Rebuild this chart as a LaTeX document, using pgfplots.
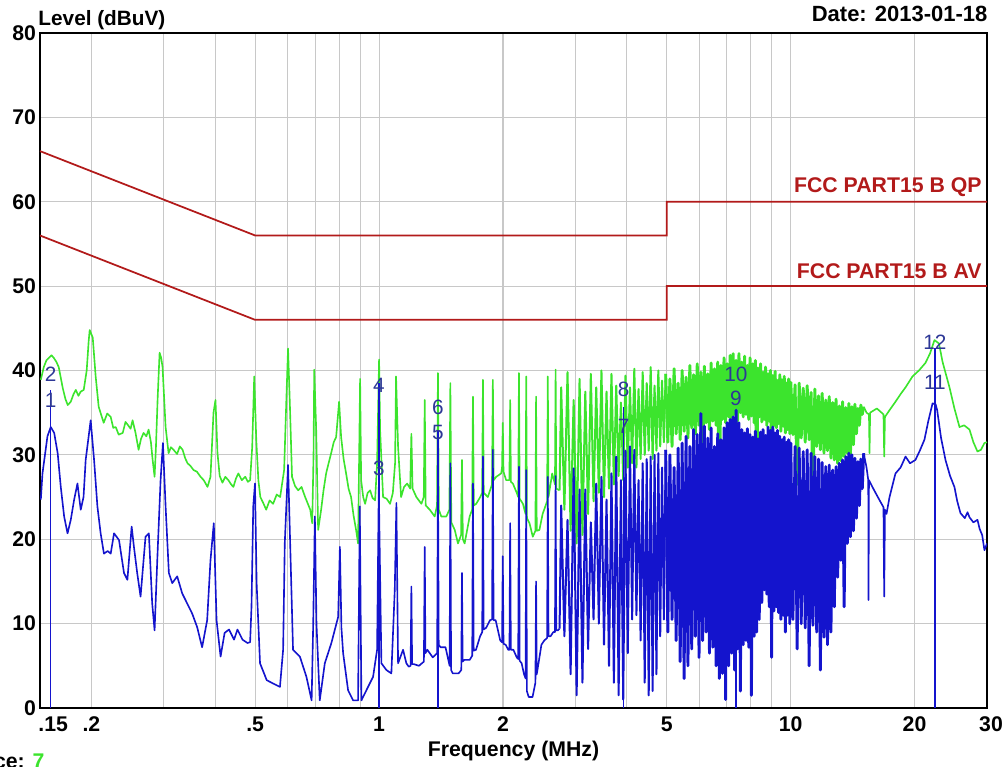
\documentclass[border=0pt]{standalone}
\usepackage{fontspec}
\setmainfont{Liberation Sans}
\usepackage{pgfplots}
\pgfplotsset{compat=1.18}

\definecolor{qpgreen}{RGB}{60,228,45}
\definecolor{avblue}{RGB}{20,20,205}
\definecolor{limred}{RGB}{178,26,26}
\definecolor{mkblue}{RGB}{45,55,150}
\definecolor{gridgray}{RGB}{200,200,200}

\newcommand{\bigb}{\fontsize{8.5}{10}\selectfont\bfseries}
\newcommand{\mk}{\fontsize{8.3}{10}\selectfont}

\tikzset{
  trace/.style={line width=0.65pt, line join=round},
  dense/.style={line width=0.8pt, line join=round},
  denser/.style={line width=1.15pt, line join=round},
  mline/.style={avblue, line width=0.6pt},
  mlbl/.style={font=\mk, text=mkblue, inner sep=0pt},
  lim/.style={limred, line width=0.7pt},
}

\begin{document}
\begin{tikzpicture}
\begin{axis}[
  scale only axis, width=378.8pt, height=270pt,
  xmode=log, xmin=0.15, xmax=30, ymin=0, ymax=80,
  xtick={0.2,0.5,1,2,5,10,20}, xticklabels={.2,.5,1,2,5,10,20},
  minor xtick={0.3,0.4,0.6,0.7,0.8,0.9,3,4,6,7,8,9},
  ytick={0,10,20,30,40,50,60,70,80}, yticklabels={0,10,20,30,40,50,60,70,80},
  grid=both,
  major grid style={draw=gridgray, line width=0.45pt},
  minor grid style={draw=gridgray, line width=0.45pt},
  major tick length=0pt, minor tick length=0pt,
  axis line style={line width=0.9pt},
  tick label style={font=\bigb, inner sep=0pt},
  xticklabel style={anchor=north, yshift=-3.2pt},
  yticklabel style={anchor=east, xshift=-1.4pt},
]

% limit lines
\addplot[lim] coordinates {(0.15,66) (0.5,56) (5,56) (5,60) (30,60)};
\addplot[lim] coordinates {(0.15,56) (0.5,46) (5,46) (5,50) (30,50)};

% peak trace (green), 0.15 - 2.75 MHz
\addplot[trace, qpgreen] coordinates {
(0.1507,38.9) (0.1532,40.4) (0.1555,41.2) (0.1576,41.5) (0.1600,41.8) (0.1620,41.5) (0.1645,41.0) (0.1666,40.4)
(0.1704,37.9) (0.1730,36.6) (0.1752,35.9) (0.1782,36.3) (0.1810,37.2) (0.1833,37.7) (0.1860,37.0) (0.1884,37.5)
(0.1916,37.7) (0.1948,40.0) (0.1970,43.5) (0.1981,44.8) (0.2015,43.9) (0.2048,39.3) (0.2083,35.7) (0.2142,33.8)
(0.2185,34.9) (0.2228,34.5) (0.2260,33.2) (0.2291,33.3) (0.2330,32.4) (0.2383,32.6) (0.2420,33.9) (0.2448,33.6)
(0.2490,33.1) (0.2518,34.1) (0.2560,32.6) (0.2604,30.6) (0.2640,31.9) (0.2678,32.6) (0.2720,32.2) (0.2754,33.0)
(0.2790,31.5) (0.2817,29.4) (0.2848,27.4) (0.2870,31.0) (0.2896,36.5) (0.2929,42.1) (0.2955,41.5) (0.2978,40.4)
(0.3029,33.3) (0.3080,30.2) (0.3120,30.9) (0.3167,30.6) (0.3230,30.1) (0.3280,31.0) (0.3331,30.6) (0.3380,29.6)
(0.3425,29.0) (0.3480,28.7) (0.3542,28.2) (0.3610,28.0) (0.3683,27.4) (0.3750,27.0) (0.3830,26.2) (0.3894,27.4)
(0.3930,31.5) (0.3960,35.0) (0.4004,36.5) (0.4049,30.2) (0.4100,27.5) (0.4163,26.7) (0.4230,27.4) (0.4304,27.0)
(0.4370,26.5) (0.4426,26.2) (0.4490,27.2) (0.4550,27.8) (0.4640,27.0) (0.4731,27.4) (0.4800,26.8)
(0.486,27.0) (0.4917,30.9) (0.4973,39.3) (0.503,31.8) (0.5090,27.0) (0.5146,25.0) (0.5230,24.3) (0.5317,23.5)
(0.5420,24.6) (0.5527,24.2) (0.5640,25.3) (0.5749,25.0) (0.5879,28.2) (0.5945,35.7) (0.6009,42.6) (0.6077,35.3)
(0.6144,27.4) (0.6250,26.3) (0.6360,25.8) (0.6480,26.2) (0.6612,25.0) (0.6804,23.5) (0.6880,21.9) (0.6930,30.0)
(0.6957,40.1) (0.7034,33.0) (0.7112,21.1) (0.7232,23.5) (0.7330,25.8) (0.7436,27.8) (0.7540,29.0) (0.7649,30.2)
(0.7760,31.5) (0.7865,32.1) (0.7997,36.3) (0.8087,32.1) (0.8200,29.5) (0.8315,27.8) (0.8430,26.0) (0.8550,25.0)
(0.8670,22.8) (0.8793,21.1) (0.8891,19.5) (0.8993,39.0) (0.9044,27.0) (0.9150,25.0) (0.9248,24.2) (0.9380,25.5)
(0.9510,25.8) (0.9640,24.9) (0.9779,24.6) (0.9889,29.0) (1.0,41.3) (1.0056,33.0) (1.0226,25.0) (1.0430,24.8)
(1.0634,24.2) (1.0800,25.5) (1.0935,29.0) (1.0996,39.3) (1.112,31.0) (1.131,25.0)
(1.150,26.2) (1.170,26.6) (1.19,26.0) (1.198,32.5) (1.206,26.0) (1.232,25.0) (1.267,24.2) (1.284,25.0)
(1.291,36.5) (1.298,24.0) (1.328,23.5) (1.365,22.7) (1.383,24.0) (1.39,39.7) (1.397,23.5) (1.416,22.7)
(1.457,22.7) (1.482,23.5) (1.49,38.5) (1.498,22.0) (1.527,21.1) (1.555,19.5) (1.582,20.5) (1.59,29.4)
(1.598,20.0) (1.614,19.5) (1.66,22.7) (1.683,23.5) (1.691,36.9) (1.699,24.0) (1.722,24.2) (1.761,25.0)
(1.78,25.5) (1.788,38.9) (1.796,25.5) (1.838,25.0) (1.881,26.5) (1.89,38.9) (1.899,27.0) (1.926,27.4)
(1.980,27.8) (1.99,28.5) (1.998,33.8) (2.006,28.0) (2.036,27.0) (2.073,27.0) (2.082,36.5) (2.091,26.8)
(2.114,26.6) (2.16,25.5) (2.178,25.0) (2.187,39.7) (2.196,24.8) (2.236,24.2) (2.269,23.0) (2.278,39.3)
(2.287,22.5) (2.320,21.9) (2.363,20.3) (2.398,21.0) (2.407,36.9) (2.416,21.0) (2.452,21.1) (2.497,23.0)
(2.56,24.5) (2.57,39.3) (2.58,25.0) (2.634,27.8) (2.675,26.5) (2.685,40.1) (2.695,26.0) (2.745,25.8)
};
% green, 2.75 - 5 MHz
\addplot[dense, qpgreen] coordinates {
(2.745,25.8)
(2.77,38.0) (2.82,23.5) (2.87,39.8) (2.92,21.0) (2.97,36.5) (3.02,19.5) (3.07,39.0) (3.12,20.5)
(3.17,37.5) (3.22,23.0) (3.27,39.6) (3.32,24.5) (3.37,38.0) (3.42,25.5) (3.47,40.0)
(3.52,25.0) (3.57,37.5) (3.62,26.0) (3.67,39.6) (3.72,26.5) (3.77,38.2) (3.82,27.5) (3.87,36.2)
(3.92,27.0) (3.97,39.4) (4.02,28.5) (4.07,38.0) (4.12,29.0) (4.17,40.2) (4.22,28.5) (4.27,37.8)
(4.32,29.5) (4.37,39.8) (4.42,30.0) (4.47,38.5) (4.52,30.5) (4.57,40.4) (4.62,29.5) (4.67,38.2)
(4.72,30.5) (4.77,40.0) (4.82,31.0) (4.87,38.8) (4.92,31.5) (4.97,39.6)
};
% green, 5 - 15 MHz
\addplot[denser, qpgreen] coordinates {
(4.97,39.6)
(5.03,31.5) (5.09,39.0) (5.15,31.0) (5.21,40.2) (5.27,32.5) (5.33,38.5) (5.39,31.8) (5.45,40.0)
(5.51,32.8) (5.57,39.2) (5.63,32.0) (5.69,40.6) (5.75,33.2) (5.81,39.5) (5.87,32.5) (5.93,40.8)
(5.99,33.5) (6.05,39.8) (6.11,26.0) (6.17,40.5) (6.23,33.8) (6.29,39.6) (6.35,33.0) (6.41,40.9)
(6.47,34.0) (6.53,40.2) (6.59,33.5) (6.65,41.0) (6.71,22.0) (6.77,40.6) (6.83,34.2) (6.89,41.5)
(6.95,33.8) (7.01,40.8) (7.07,34.5) (7.13,41.8) (7.19,23.5) (7.25,42.0) (7.31,34.8) (7.37,41.2)
(7.43,34.0) (7.49,42.0) (7.55,35.0) (7.61,41.0) (7.67,34.5) (7.73,41.7) (7.79,34.8) (7.85,40.6)
(7.91,34.2) (7.97,41.5) (8.03,34.6) (8.09,40.8) (8.15,33.8) (8.21,41.2) (8.27,22.8) (8.33,40.3)
(8.39,34.5) (8.45,40.8) (8.51,33.9) (8.57,39.8) (8.63,34.2) (8.69,40.4) (8.75,33.5) (8.81,39.6)
(8.87,34.0) (8.93,40.0) (8.99,26.0) (9.05,39.4) (9.11,33.5) (9.17,39.9) (9.23,33.2) (9.29,38.8)
(9.35,33.7) (9.41,39.5) (9.47,32.8) (9.53,38.9) (9.59,33.4) (9.65,39.3) (9.71,32.6) (9.77,38.5)
(9.83,33.0) (9.89,39.0) (9.95,32.5)
(10.01,38.6) (10.13,32.4) (10.25,38.3) (10.37,26.5) (10.49,38.5) (10.61,32.0) (10.73,37.9) (10.85,31.5)
(10.97,38.2) (11.09,31.8) (11.21,37.4) (11.33,25.5) (11.45,37.8) (11.57,31.0) (11.69,37.0) (11.81,30.6)
(11.93,37.3) (12.05,30.2) (12.17,36.5) (12.29,30.5) (12.41,36.9) (12.53,29.6) (12.65,36.2) (12.77,29.4)
(12.89,36.6) (13.01,29.0) (13.13,35.8) (13.25,29.3) (13.37,36.3) (13.49,29.8) (13.61,35.6) (13.73,30.2)
(13.85,36.1) (13.97,30.0) (14.09,35.7) (14.21,31.2) (14.33,36.0) (14.45,32.5) (14.57,35.5) (14.69,33.5)
(14.81,35.9) (14.93,34.8) (15.05,35.7)
};
% green, 15 - 30 MHz
\addplot[trace, qpgreen] coordinates {
(15.05,35.7) (15.29,35.0) (15.50,34.8) (15.55,30.2) (15.60,35.0) (16.2,35.5) (16.81,34.8) (16.88,29.8)
(16.95,34.5) (17.39,35.3) (17.98,36.3) (18.5,37.2) (19.02,38.0) (19.78,39.3) (20.5,40.0) (21.26,40.9)
(21.8,42.0) (22.36,43.6) (22.93,43.2) (23.4,41.0) (24.32,38.0) (25.0,35.5) (25.72,33.3) (26.4,33.5)
(27.2,33.0) (27.8,31.5) (28.44,30.4) (29.0,30.6) (29.57,31.4) (30,31.5)
};

% average trace (blue), 0.15 - 2.75 MHz
\addplot[trace, avblue] coordinates {
(0.1507,24.7) (0.1521,27.8) (0.1564,32.2) (0.1593,33.3) (0.1624,32.6) (0.1656,30.2) (0.1685,26.2) (0.1717,22.7)
(0.1750,20.7) (0.1782,22.3) (0.1816,24.7) (0.1850,26.6) (0.1884,23.5) (0.1914,25.0) (0.1937,29.4) (0.1992,34.1)
(0.2030,29.4) (0.2068,23.9) (0.2106,20.7) (0.2145,18.3) (0.2190,18.6) (0.2228,18.3) (0.2270,20.7) (0.2334,19.9)
(0.2400,16.0) (0.2446,15.2) (0.2505,21.5) (0.2537,19.1) (0.2584,16.0) (0.2633,13.2) (0.2707,20.3) (0.2758,20.7)
(0.2810,12.4) (0.2848,9.2) (0.2891,17.5) (0.2945,27.0) (0.2984,31.4) (0.3029,23.9) (0.3085,16.0) (0.3144,14.8)
(0.3232,15.6) (0.3323,13.6) (0.3385,12.8) (0.3514,11.2) (0.3613,9.6) (0.3716,7.2) (0.3822,10.4) (0.3894,17.5)
(0.3967,21.9) (0.4028,10.4) (0.4120,6.1) (0.4214,8.9) (0.4318,9.3) (0.4442,8.1) (0.4528,9.3) (0.4657,8.1)
(0.4790,7.7)
(0.486,7.8) (0.4898,12.0) (0.4946,23.9) (0.4994,26.6) (0.5040,14.8) (0.5137,5.3) (0.5333,3.3) (0.5527,2.9)
(0.5743,2.5) (0.5846,6.9) (0.5900,19.5) (0.6009,28.8) (0.6087,18.7) (0.6179,6.9) (0.6420,6.1) (0.6660,3.7)
(0.6856,0.9) (0.6918,10.0) (0.6982,22.7) (0.7045,10.0) (0.7176,0.9) (0.7382,5.3) (0.7658,7.7) (0.7956,10.8)
(0.8031,19.1) (0.8100,9.5) (0.8178,6.5) (0.8408,2.1) (0.8649,0.9) (0.8891,0.9) (0.8976,23.9) (0.9058,0.9)
(0.9315,2.1) (0.9670,3.7) (0.9889,6.9) (0.9983,26.2) (1.0130,5.3) (1.0417,4.5) (1.0712,4.1) (1.0917,14.0)
(1.1017,24.3) (1.1121,5.3) (1.1435,6.9)
(1.165,5.3) (1.18,4.9) (1.193,5.0) (1.198,14.4) (1.203,5.2) (1.215,5.2) (1.25,5.0) (1.285,5.5)
(1.291,19.1) (1.296,6.5) (1.31,6.9) (1.35,6.0) (1.384,6.5) (1.39,29.0) (1.396,7.5) (1.41,7.2)
(1.45,7.2) (1.484,5.0) (1.49,29.0) (1.496,4.5) (1.51,4.1) (1.56,4.1) (1.584,4.5) (1.59,16.0)
(1.596,5.5) (1.61,5.7) (1.66,5.7) (1.684,6.2) (1.691,26.6) (1.698,6.8) (1.72,6.9) (1.76,8.5)
(1.781,9.0) (1.788,29.8) (1.795,9.3) (1.82,9.5) (1.86,10.4) (1.882,10.5) (1.89,30.6) (1.898,10.4)
(1.92,10.4) (1.97,8.0) (1.99,7.8) (1.998,18.0) (2.006,7.6) (2.03,7.5) (2.06,6.9) (2.074,6.9)
(2.082,21.9) (2.09,6.9) (2.12,6.9) (2.16,6.0) (2.178,5.8) (2.187,28.6) (2.196,5.6) (2.22,5.3)
(2.25,4.0) (2.27,3.5) (2.278,28.2) (2.286,2.0) (2.31,1.3) (2.36,1.3) (2.398,3.0) (2.407,15.0)
(2.416,4.0) (2.44,5.3) (2.48,7.5) (2.52,8.0) (2.56,8.3) (2.57,27.4) (2.58,8.5) (2.61,8.5)
(2.65,9.0) (2.675,9.0) (2.685,27.5) (2.695,9.2) (2.72,9.2) (2.745,9.4)
};
% blue, 2.75 - 5 MHz
\addplot[dense, avblue] coordinates {
(2.745,9.4)
(2.77,24.0) (2.82,8.5) (2.87,22.3) (2.92,4.0) (2.97,28.4) (3.02,1.5) (3.07,25.9) (3.12,3.0)
(3.17,25.9) (3.22,7.0) (3.27,22.0) (3.32,10.5) (3.37,26.6) (3.42,10.0) (3.47,27.4)
(3.52,7.5) (3.57,24.7) (3.62,5.0) (3.67,27.8) (3.72,3.0) (3.77,29.8) (3.82,1.5) (3.87,27.0)
(3.92,1.0) (3.97,30.5) (4.02,6.5) (4.07,31.0) (4.12,10.5) (4.17,30.6) (4.22,11.0) (4.27,27.0)
(4.32,8.0) (4.37,29.0) (4.42,3.0) (4.47,29.5) (4.52,1.5) (4.57,29.8) (4.62,2.0) (4.67,30.0)
(4.72,4.0) (4.77,30.2) (4.82,8.5) (4.87,28.5) (4.92,10.5) (4.97,30.6)
};
% blue, 5 - 15 MHz
\addplot[denser, avblue] coordinates {
(4.97,30.6)
(5.03,9.0) (5.09,30.0) (5.15,10.5) (5.21,28.5) (5.27,8.0) (5.33,30.8) (5.39,5.5) (5.45,31.4)
(5.51,3.5) (5.57,32.2) (5.63,5.0) (5.69,31.0) (5.75,7.0) (5.81,33.0) (5.87,8.5) (5.93,32.4)
(5.99,6.0) (6.05,34.9) (6.11,8.0) (6.17,33.4) (6.23,9.0) (6.29,32.0) (6.35,6.5) (6.41,33.2)
(6.47,7.2) (6.53,31.0) (6.59,5.0) (6.65,32.5) (6.71,3.5) (6.77,31.8) (6.83,4.1) (6.89,33.2)
(6.95,1.0) (7.01,33.8) (7.07,5.0) (7.13,34.2) (7.19,6.5) (7.25,34.5) (7.31,4.5) (7.37,35.3)
(7.43,7.0) (7.49,33.8) (7.55,2.0) (7.61,33.0) (7.67,7.5) (7.73,32.6) (7.79,8.0) (7.85,33.1)
(7.91,7.2) (7.97,32.4) (8.03,1.5) (8.09,32.1) (8.15,8.5) (8.21,32.8) (8.27,9.0) (8.33,31.9)
(8.39,10.5) (8.45,32.7) (8.51,12.5) (8.57,33.0) (8.63,14.0) (8.69,32.3) (8.75,13.5) (8.81,33.3)
(8.87,12.0) (8.93,32.9) (8.99,6.0) (9.05,33.3) (9.11,11.5) (9.17,32.6) (9.23,12.0) (9.29,32.9)
(9.35,11.3) (9.41,32.2) (9.47,10.5) (9.53,31.8) (9.59,11.0) (9.65,32.1) (9.71,9.0) (9.77,31.5)
(9.83,11.0) (9.89,31.8) (9.95,10.0)
(10.01,31.4) (10.13,10.5) (10.25,31.0) (10.37,7.0) (10.49,30.8) (10.61,10.0) (10.73,30.4) (10.85,9.5)
(10.97,30.6) (11.09,5.0) (11.21,30.2) (11.33,9.8) (11.45,29.8) (11.57,9.0) (11.69,29.5) (11.81,4.5)
(11.93,29.1) (12.05,8.4) (12.17,28.6) (12.29,7.5) (12.41,28.8) (12.53,9.0) (12.65,28.2) (12.77,12.0)
(12.89,28.6) (13.01,15.5) (13.13,29.0) (13.25,17.5) (13.37,29.4) (13.49,12.0) (13.61,29.8) (13.73,19.5)
(13.85,30.2) (13.97,20.3) (14.09,30.0) (14.21,21.0) (14.33,29.6) (14.45,22.5) (14.57,29.2) (14.69,24.0)
(14.81,29.5) (14.93,26.0) (15.05,30.2)
};
% blue, 15 - 30 MHz
\addplot[trace, avblue] coordinates {
(15.05,30.2) (15.29,28.5) (15.44,27.0) (15.46,12.8) (15.50,27.0) (15.8,26.2) (16.08,25.5) (16.5,24.5)
(16.81,23.8) (16.88,13.2) (16.95,23.5) (17.1,23.0) (17.39,25.0) (17.7,26.5) (17.98,27.8) (18.5,28.5)
(19.02,29.8) (19.5,29.0) (20.1,29.4) (20.6,30.5) (21.14,31.8) (21.6,34.0) (22.12,36.1) (22.5,36.0)
(22.7,35.3) (23.2,32.0) (23.78,29.4) (24.4,27.5) (25.0,26.2) (25.4,24.5) (25.86,23.1) (26.5,22.5)
(26.9,23.2) (27.2,22.6) (27.8,22.0) (28.44,22.3) (28.8,21.2) (29.2,20.5) (29.57,18.7) (30,19.5)
};

% marker lines
\addplot[mline] coordinates {(0.1593,0) (0.1593,37.7)};
\addplot[mline] coordinates {(0.9983,0) (0.9983,38.5)};
\addplot[mline] coordinates {(1.39,0) (1.39,33)};
\addplot[mline] coordinates {(3.93,0) (3.93,35.7)};
\addplot[mline] coordinates {(7.36,0) (7.36,35.3)};
\addplot[mline] coordinates {(22.4,0) (22.4,42.7)};

% limit labels
\node[anchor=east, text=limred, font=\bigb, inner sep=0pt, xshift=-2pt] at (axis cs:30,61.7) {FCC PART15 B QP};
\node[anchor=east, text=limred, font=\bigb, inner sep=0pt, xshift=-2pt] at (axis cs:30,51.8) {FCC PART15 B AV};

% marker numbers
\node[mlbl] at (axis cs:0.1593,39.5) {2};
\node[mlbl] at (axis cs:0.1593,36.5) {1};
\node[mlbl] at (axis cs:0.9983,38.2) {4};
\node[mlbl] at (axis cs:0.9983,28.4) {3};
\node[mlbl] at (axis cs:1.39,35.6) {6};
\node[mlbl] at (axis cs:1.39,32.7) {5};
\node[mlbl] at (axis cs:3.93,37.8) {8};
\node[mlbl] at (axis cs:3.93,33.4) {7};
\node[mlbl] at (axis cs:7.36,39.5) {10};
\node[mlbl] at (axis cs:7.36,36.7) {9};
\node[mlbl] at (axis cs:22.4,43.4) {12};
\node[mlbl] at (axis cs:22.4,38.6) {11};
\end{axis}

\node[anchor=base west, font=\fontsize{8.3}{10}\selectfont\bfseries, inner sep=0pt] at ([xshift=-0.8pt,yshift=2.8pt]current axis.north west) {Level (dBuV)};
\node[anchor=base east, font=\fontsize{8.8}{10}\selectfont\bfseries, inner sep=0pt] at ([xshift=0.4pt,yshift=4.4pt]current axis.north east) {Date: 2013-01-18};
\node[anchor=north west, font=\bigb, inner sep=0pt] at ([xshift=-0.8pt,yshift=-3.2pt]current axis.south west) {.15};
\node[anchor=north, font=\bigb, inner sep=0pt] at ([xshift=1.6pt,yshift=-3.2pt]current axis.south east) {30};
\node[anchor=base, font=\bigb, inner sep=0pt] at ([yshift=-19.6pt]current axis.south) {Frequency (MHz)};
\node[anchor=base east, font=\bigb, inner sep=0pt] at ([xshift=2pt,yshift=-24.4pt]current axis.south west) {Trace: \textcolor{qpgreen}{7}};

\pgfresetboundingbox
\path ([shift={(-16pt,-23.6pt)}]current axis.south west) rectangle ([shift={(7.2pt,13.2pt)}]current axis.north east);
\end{tikzpicture}
\end{document}
